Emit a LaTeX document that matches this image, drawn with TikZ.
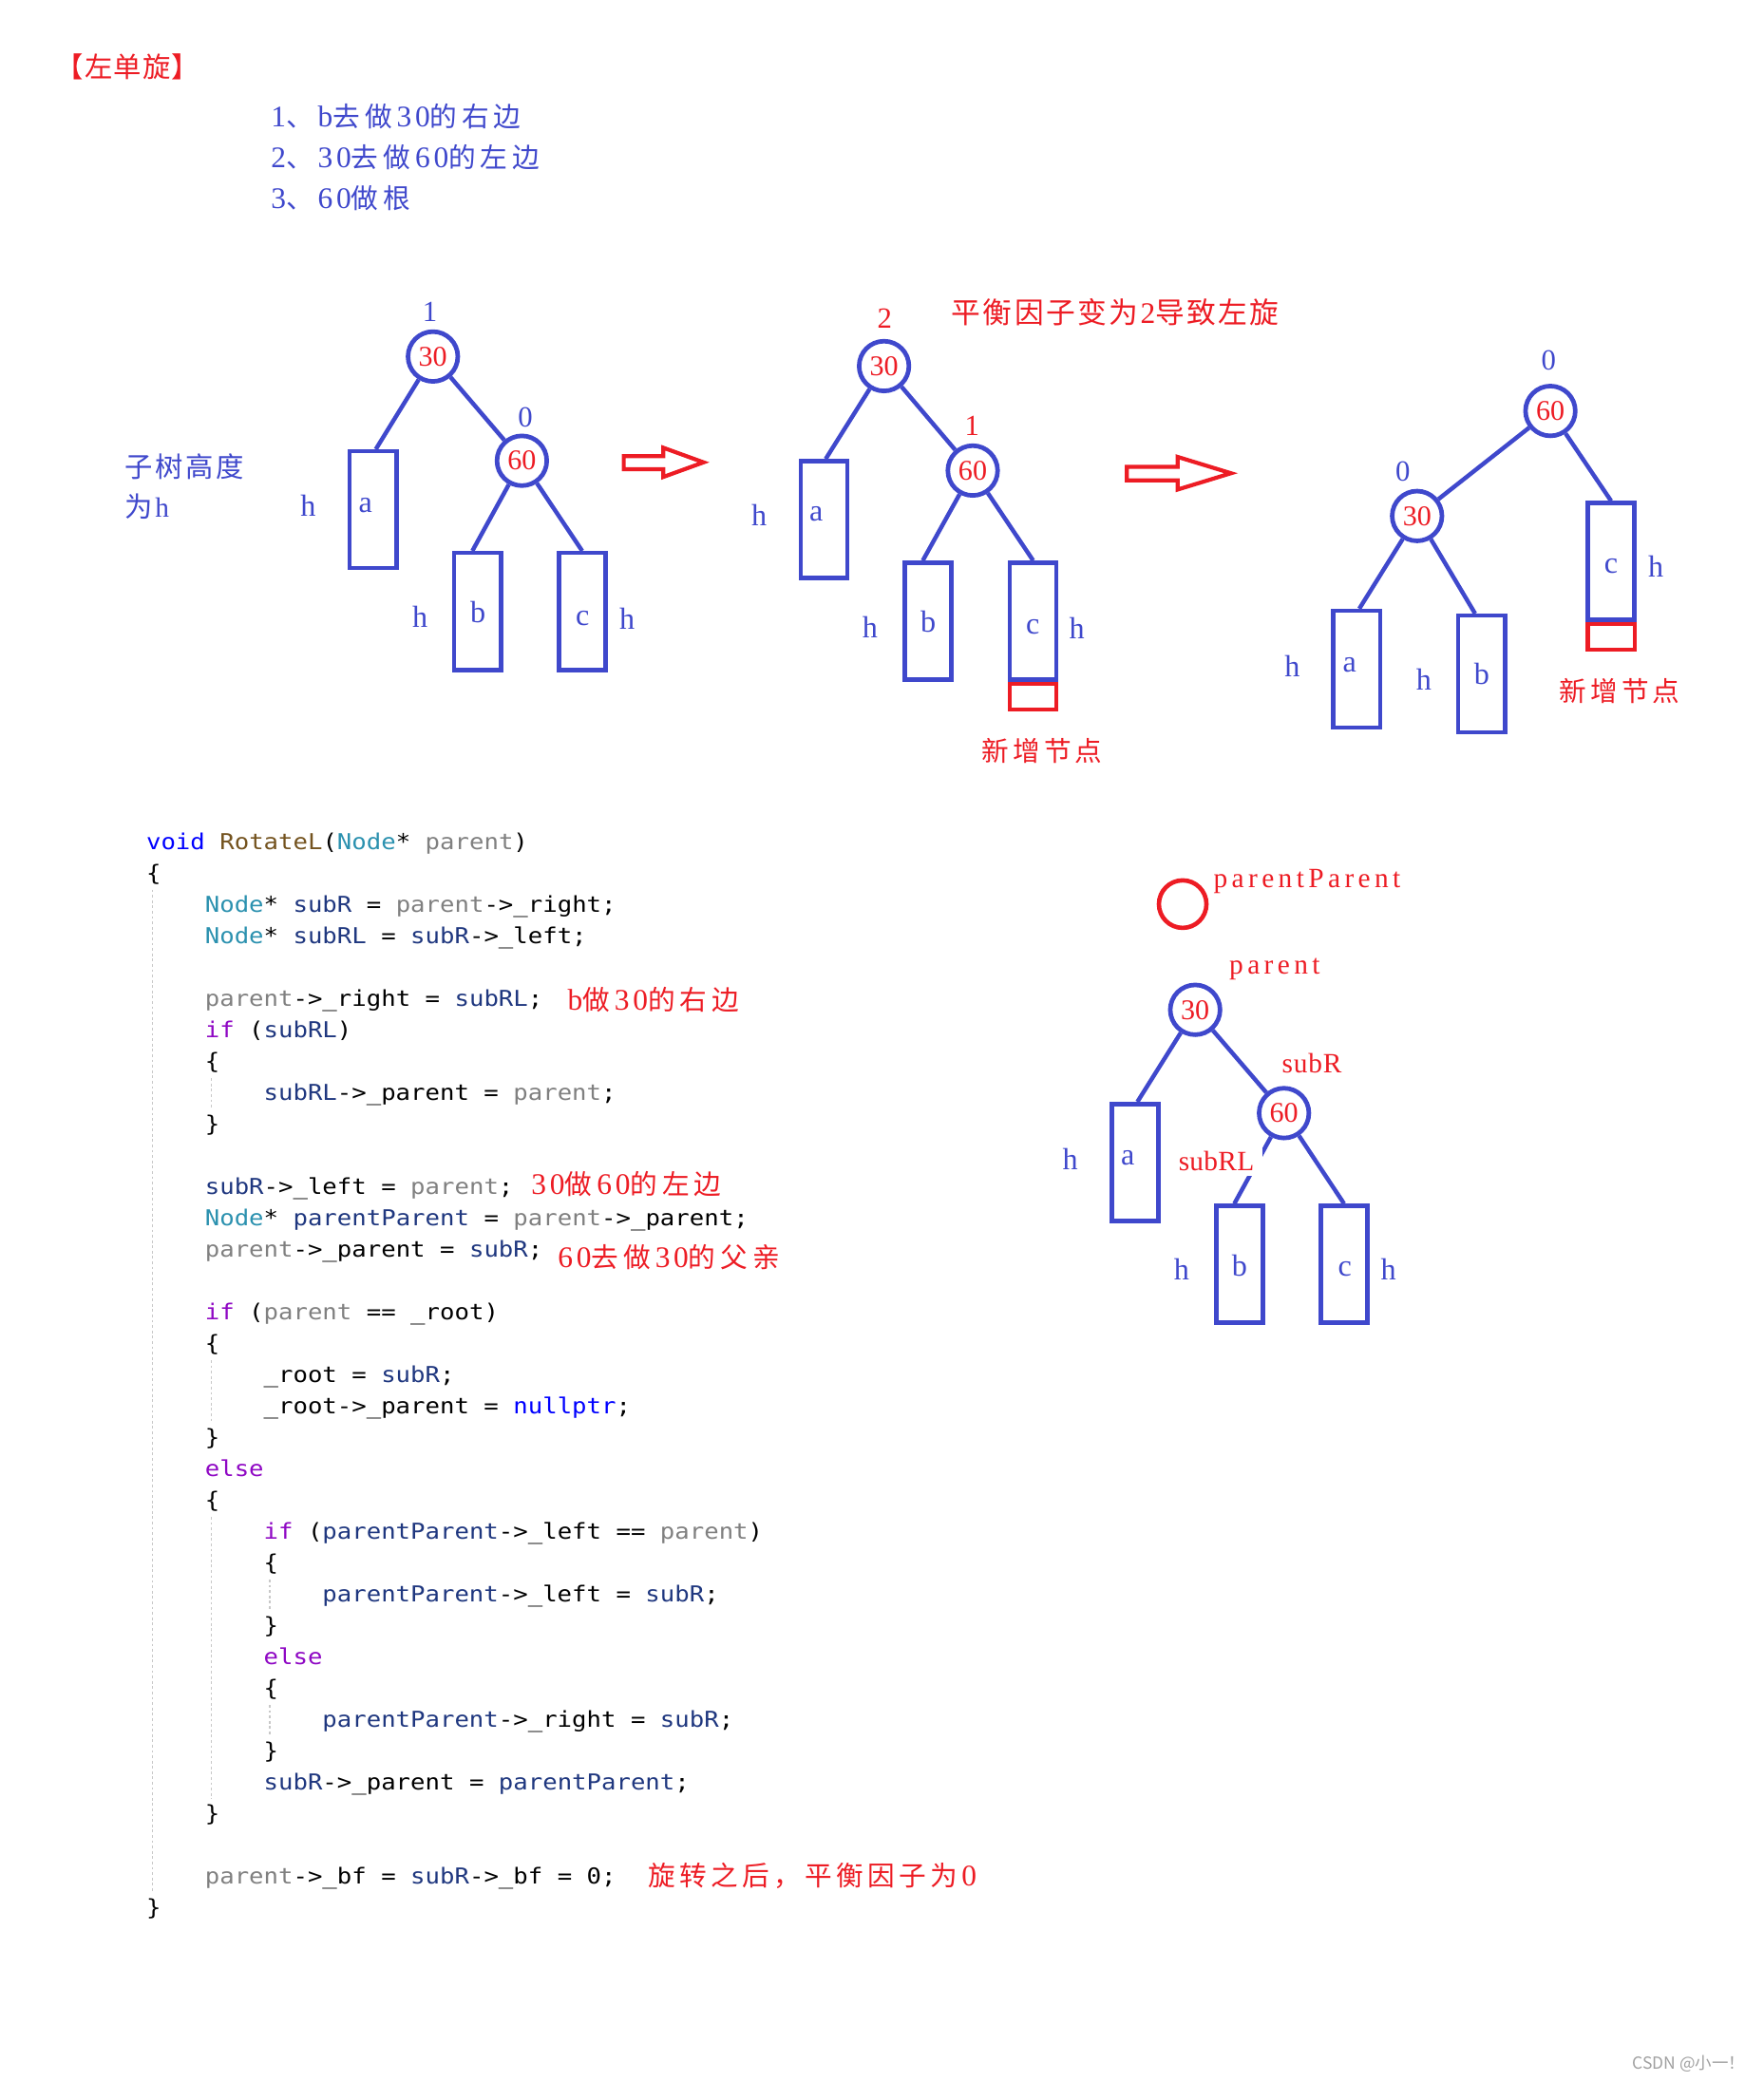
\documentclass[tikz,border=0pt]{standalone}
\usepackage{fontspec}
\setmainfont{Liberation Serif}
\newfontfamily\zh{Noto Sans CJK SC}
\newfontfamily\codefont{DejaVu Sans Mono}[FakeStretch=1.113]
\usetikzlibrary{calc}
\definecolor{pblue}{RGB}{63,72,204}
\definecolor{pred}{RGB}{237,28,36}
\definecolor{kwblue}{RGB}{0,0,255}
\definecolor{fnbrown}{RGB}{116,83,31}
\definecolor{tyteal}{RGB}{43,145,175}
\definecolor{pagray}{RGB}{128,128,128}
\definecolor{lvnavy}{RGB}{31,55,127}
\definecolor{ctlpurple}{RGB}{143,8,196}
\definecolor{guidegray}{RGB}{200,200,200}
\definecolor{wmgray}{RGB}{160,160,160}
\newlength\cjkp
\makeatletter
\def\spreadchars#1{\spread@i#1\@nil}
\def\spread@i#1{\ifx#1\@nil\else\makebox[\cjkp][l]{#1}\expandafter\spread@i\fi}
\makeatother
% CJK text with a fixed pitch per character
\newcommand\Z[2]{{\zh\setlength\cjkp{#1pt}\spreadchars{#2}}}
% Latin text with letter spacing
\newcommand\E[2]{{\rmfamily\addfontfeature{LetterSpace=#1}#2}}
% Latin text, slightly larger, with letter spacing (digits in CJK lines)
\newcommand\EL[2]{{\rmfamily\fontsize{22.5}{24}\selectfont\addfontfeature{LetterSpace=#1}#2}}
\newcommand\ckw[1]{\textcolor{kwblue}{#1}}
\newcommand\cfn[1]{\textcolor{fnbrown}{#1}}
\newcommand\cty[1]{\textcolor{tyteal}{#1}}
\newcommand\cpa[1]{\textcolor{pagray}{#1}}
\newcommand\clv[1]{\textcolor{lvnavy}{#1}}
\newcommand\cct[1]{\textcolor{ctlpurple}{#1}}
\tikzset{
  circ/.style={circle, draw=pblue, line width=3.4pt, minimum size=37.5pt, inner sep=0pt, text=pred, font=\fontsize{21.5}{24}\selectfont},
  subtree/.style={draw=pblue, line width=3.2pt, minimum width=35.2pt, minimum height=88pt, inner sep=0pt},
  link/.style={draw=pblue, line width=3.2pt},
  hlab/.style={text=pblue, inner sep=0pt, font=\fontsize{23}{26}\selectfont},
  bfnum/.style={text=pblue, inner sep=0pt, font=\fontsize{22}{24}\selectfont},
  bfred/.style={bfnum, text=pred},
  newbox/.style={draw=pred, line width=3pt, minimum width=35.2pt, minimum height=19.5pt, inner sep=0pt, anchor=north},
  hollow/.style={draw=pred, line width=3pt, line join=miter},
  codeline/.style={anchor=base west, inner sep=0pt, font=\codefont\fontsize{16.5}{20}\selectfont\frenchspacing},
  zhtext/.style={anchor=west, inner sep=0pt, font=\fontsize{20.5}{24}\selectfont},
  redlab/.style={anchor=west, inner sep=0pt, text=pred, font=\fontsize{21}{24}\selectfont},
  guide/.style={draw=guidegray, line width=1pt, dash pattern=on 2pt off 2pt},
}
\begin{document}
\begin{tikzpicture}[x=1pt,y=-1pt]
\useasboundingbox (0,0) rectangle (1328,1568);
\fill[white] (0,0) rectangle (1328,1568);

% ---------- header ----------
\node[zhtext, text=pred, font=\fontsize{21}{24}\selectfont] (title) at (42,50) {\Z{21.8}{【左单旋】}};
\node[zhtext, text=pblue] (step1) at (204,87.6) {\EL{12}{1}\Z{24}{、}\EL{12}{b}\Z{24}{去做}\EL{12}{30}\Z{24}{的右边}};
\node[zhtext, text=pblue] (step2) at (204,118.6) {\EL{12}{2}\Z{24}{、}\EL{12}{30}\Z{24}{去做}\EL{12}{60}\Z{24}{的左边}};
\node[zhtext, text=pblue] (step3) at (204,149) {\EL{12}{3}\Z{24}{、}\EL{12}{60}\Z{24}{做根}};

% ---------- tree 1 ----------
\node[zhtext, text=pblue, font=\fontsize{21}{24}\selectfont] (h1) at (93.7,351.5) {\Z{23}{子树高度}};
\node[zhtext, text=pblue, font=\fontsize{21}{24}\selectfont] (h2) at (93.7,381.5) {\Z{23}{为}\E{6}{h}};
\node[circ] (t1r) at (326,268.5) {30};
\node[circ] (t1s) at (393,347) {60};
\node[subtree] (t1a) at (281,383.9) {};
\node[subtree] (t1b) at (359.7,460.5) {};
\node[subtree] (t1c) at (438.4,460.5) {};
\node[bfnum] (t1rb) at (323.8,234.6) {1};
\node[bfnum] (t1sb) at (395.6,314) {0};
\node[hlab] (t1ta) at (275.3,380.4) {a};
\node[hlab] (t1ha) at (232,380.9) {h};
\node[hlab] (t1tb) at (360,461.3) {b};
\node[hlab] (t1hb) at (316.2,464.7) {h};
\node[hlab] (t1tc) at (438.7,465.9) {c};
\node[hlab] (t1hc) at (472.3,465.9) {h};
\draw[link] (t1r) -- ([xshift=2pt]t1a.north);
\draw[link] (t1r) -- (t1s);
\draw[link] (t1s) -- ([xshift=-4pt]t1b.north);
\draw[link] (t1s) -- (t1c.north);

\draw[hollow] (469.7,343.5) -- (499.5,343.5) -- (499.5,337.2) -- (529.8,348.2) -- (499.5,359.2) -- (499.5,353.4) -- (469.7,353.4) -- cycle;

% ---------- tree 2 ----------
\node[zhtext, text=pred, font=\fontsize{22}{24}\selectfont] (why) at (716.4,235.4) {\Z{23.7}{平衡因子变为}\EL{8}{2}\Z{23.7}{导致左旋}};
\node[circ] (t2r) at (665.7,275.7) {30};
\node[circ] (t2s) at (732.5,354.4) {60};
\node[subtree] (t2a) at (620.5,391.2) {};
\node[subtree] (t2b) at (698.9,467.75) {};
\node[subtree] (t2c) at (778,467.75) {};
\node[newbox] (t2n) at (t2c.south) {};
\node[bfred] (t2rb) at (666.2,239.9) {2};
\node[bfred] (t2sb) at (732,320.4) {1};
\node[hlab] (t2ta) at (614.6,387.1) {a};
\node[hlab] (t2ha) at (571.6,388.2) {h};
\node[hlab] (t2tb) at (699,468.5) {b};
\node[hlab] (t2hb) at (655.2,472.4) {h};
\node[hlab] (t2tc) at (777.8,472.4) {c};
\node[hlab] (t2hc) at (811,473) {h};
\node[zhtext, text=pred] (t2new) at (739.4,565.5) {\Z{23.3}{新增节点}};
\draw[link] (t2r) -- ([xshift=1.3pt]t2a.north);
\draw[link] (t2r) -- (t2s);
\draw[link] (t2s) -- ([xshift=-4pt]t2b.north);
\draw[link] (t2s) -- (t2c.north);

\draw[hollow] (848.5,351.6) -- (886.8,351.6) -- (886.8,344.1) -- (927,356.4) -- (886.8,368.7) -- (886.8,361.8) -- (848.5,361.8) -- cycle;

% ---------- tree 3 ----------
\node[circ] (t3r) at (1167.5,309.5) {60};
\node[circ] (t3l) at (1067.1,388.6) {30};
\node[subtree] (t3c) at (1213.2,422.85) {};
\node[newbox] (t3n) at (t3c.south) {};
\node[subtree] (t3a) at (1021.6,504) {};
\node[subtree] (t3b) at (1115.8,507.7) {};
\node[bfnum] (t3rb) at (1166.2,271.3) {0};
\node[bfnum] (t3lb) at (1056.4,355.3) {0};
\node[hlab] (t3tc) at (1213.2,426.7) {c};
\node[hlab] (t3hc) at (1247,426.8) {h};
\node[hlab] (t3ta) at (1016.3,500.7) {a};
\node[hlab] (t3ha) at (973.1,501.9) {h};
\node[hlab] (t3tb) at (1115.8,507.8) {b};
\node[hlab] (t3hb) at (1072.2,511.4) {h};
\node[zhtext, text=pred] (t3new) at (1174.3,520.4) {\Z{23.3}{新增节点}};
\draw[link] (t3r) -- (t3l);
\draw[link] (t3r) -- (t3c.north);
\draw[link] (t3l) -- ([xshift=2pt]t3a.north);
\draw[link] (t3l) -- ([xshift=-5pt]t3b.north);

% ---------- tree 4 ----------
\node[circle, draw=pred, line width=3.3pt, minimum size=35.8pt, inner sep=0pt] (pp) at (890.6,680.9) {};
\node[redlab] (lpp) at (913.7,663.7) {\addfontfeature{LetterSpace=15}parentParent};
\node[redlab] (lpa) at (925.6,729.8) {\addfontfeature{LetterSpace=15}parent};
\node[circ] (t4r) at (900,760.5) {30};
\node[circ] (t4s) at (966.9,838.3) {60};
\node[redlab] (lsr) at (965.2,800.5) {\addfontfeature{LetterSpace=3}subR};
\node[subtree] (t4a) at (854.9,875.4) {};
\node[subtree] (t4b) at (933.5,952.1) {};
\node[subtree] (t4c) at (1012.1,952.1) {};
\node[hlab] (t4ta) at (849.3,871.7) {a};
\node[hlab] (t4ha) at (805.9,873) {h};
\node[hlab] (t4tb) at (933.5,953.2) {b};
\node[hlab] (t4hb) at (889.8,955.7) {h};
\node[hlab] (t4tc) at (1012.7,955.7) {c};
\node[hlab] (t4hc) at (1045.5,955.7) {h};
\draw[link] (t4r) -- ([xshift=1.6pt]t4a.north);
\draw[link] (t4r) -- (t4s);
\draw[link] (t4s) -- ([xshift=-4pt]t4b.north);
\draw[link] (t4s) -- (t4c.north);
\node[text=pred, fill=white, inner xsep=6pt, inner ysep=4pt, font=\fontsize{21}{24}\selectfont] (lsrl) at (916,874.5) {\addfontfeature{LetterSpace=1}subRL};

% ---------- code ----------
\draw[guide] (114.8,670) -- (114.8,1425);
\draw[guide] (159,812) -- (159,835.6);
\draw[guide] (159,1024.4) -- (159,1071.6);
\draw[guide] (159,1142.4) -- (159,1354.8);
\draw[guide] (203.2,1189.6) -- (203.2,1213.2);
\draw[guide] (203.2,1284) -- (203.2,1307.6);

\node[codeline] (cl0)  at (110,640.2) {\ckw{void} \cfn{RotateL}(\cty{Node}* \cpa{parent})};
\node[codeline] (cl1)  at (110,663.8) {\{};
\node[codeline] (cl2)  at (154.2,687.4) {\cty{Node}* \clv{subR} = \cpa{parent}->\_right;};
\node[codeline] (cl3)  at (154.2,711.0) {\cty{Node}* \clv{subRL} = \clv{subR}->\_left;};
\node[codeline] (cl5)  at (154.2,758.2) {\cpa{parent}->\_right = \clv{subRL};};
\node[codeline] (cl6)  at (154.2,781.8) {\cct{if} (\clv{subRL})};
\node[codeline] (cl7)  at (154.2,805.4) {\{};
\node[codeline] (cl8)  at (198.4,829.0) {\clv{subRL}->\_parent = \cpa{parent};};
\node[codeline] (cl9)  at (154.2,852.6) {\}};
\node[codeline] (cl11) at (154.2,899.8) {\clv{subR}->\_left = \cpa{parent};};
\node[codeline] (cl12) at (154.2,923.4) {\cty{Node}* \clv{parentParent} = \cpa{parent}->\_parent;};
\node[codeline] (cl13) at (154.2,947.0) {\cpa{parent}->\_parent = \clv{subR};};
\node[codeline] (cl15) at (154.2,994.2) {\cct{if} (\cpa{parent} == \_root)};
\node[codeline] (cl16) at (154.2,1017.8) {\{};
\node[codeline] (cl17) at (198.4,1041.4) {\_root = \clv{subR};};
\node[codeline] (cl18) at (198.4,1065.0) {\_root->\_parent = \ckw{nullptr};};
\node[codeline] (cl19) at (154.2,1088.6) {\}};
\node[codeline] (cl20) at (154.2,1112.2) {\cct{else}};
\node[codeline] (cl21) at (154.2,1135.8) {\{};
\node[codeline] (cl22) at (198.4,1159.4) {\cct{if} (\clv{parentParent}->\_left == \cpa{parent})};
\node[codeline] (cl23) at (198.4,1183.0) {\{};
\node[codeline] (cl24) at (242.6,1206.6) {\clv{parentParent}->\_left = \clv{subR};};
\node[codeline] (cl25) at (198.4,1230.2) {\}};
\node[codeline] (cl26) at (198.4,1253.8) {\cct{else}};
\node[codeline] (cl27) at (198.4,1277.4) {\{};
\node[codeline] (cl28) at (242.6,1301.0) {\clv{parentParent}->\_right = \clv{subR};};
\node[codeline] (cl29) at (198.4,1324.6) {\}};
\node[codeline] (cl30) at (198.4,1348.2) {\clv{subR}->\_parent = \clv{parentParent};};
\node[codeline] (cl31) at (154.2,1371.8) {\}};
\node[codeline] (cl33) at (154.2,1419.0) {\cpa{parent}->\_bf = \clv{subR}->\_bf = 0;};
\node[codeline] (cl34) at (110,1442.6) {\}};

\node[zhtext, text=pred] (cm5)  at (427.3,752.9) {\EL{12}{b}\Z{24}{做}\EL{12}{30}\Z{24}{的右边}};
\node[zhtext, text=pred] (cm11) at (400,891.8) {\EL{12}{30}\Z{24}{做}\EL{12}{60}\Z{24}{的左边}};
\node[zhtext, text=pred] (cm13) at (420,946.6) {\EL{12}{60}\Z{24}{去做}\EL{12}{30}\Z{24}{的父亲}};
\node[zhtext, text=pred] (cm33) at (488,1412.8) {\Z{23.6}{旋转之后，平衡因子为}\EL{8}{0}};

\node[anchor=west, inner sep=0pt, text=wmgray, font=\zh\fontsize{12.5}{14}\selectfont] (wm) at (1229,1554) {CSDN @小一！};
\end{tikzpicture}
\end{document}
